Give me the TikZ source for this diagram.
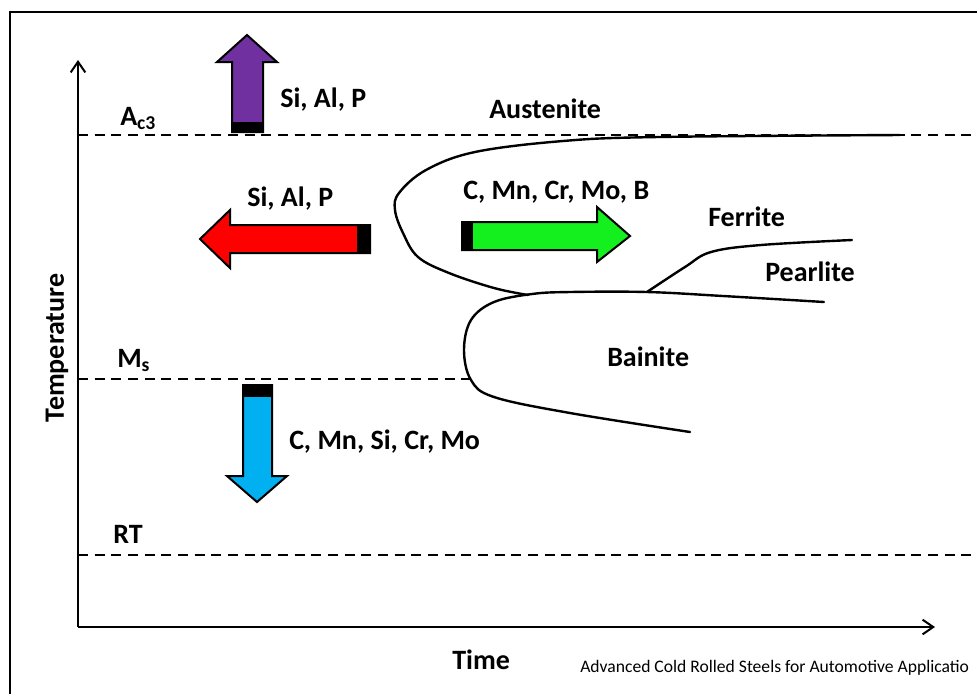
\documentclass[tikz,border=0pt]{standalone}
\usepackage{fontspec}
\setmainfont{Carlito}
\usetikzlibrary{arrows.meta}
\definecolor{alviolet}{HTML}{7030A0}
\definecolor{alred}{HTML}{FF0000}
\definecolor{algreen}{HTML}{14F01E}
\definecolor{alblue}{HTML}{00B0F0}

\begin{document}
\begin{tikzpicture}[x=0.75pt,y=-0.75pt,
  lbl/.style={font=\bfseries\fontsize{21}{24}\selectfont, inner sep=0pt, anchor=base west},
  level/.style={black, line width=1.4pt, dash pattern=on 7.5pt off 5pt},
  curve/.style={black, line width=1.8pt, line join=round, line cap=round},
  axis/.style={black, line width=1.5pt, -{Straight Barb[length=8pt,width=11pt]}},
  fatarrow/.style={draw=black, line width=1.5pt, line join=miter}]

\useasboundingbox (0,0) rectangle (977,694);

% frame
\draw[black, line width=1.5pt] (977,12) -- (10,12) -- (10,694);

% axes
\coordinate (origin) at (78,627);
\coordinate (ytop) at (78,60);
\coordinate (xend) at (935,627);
\draw[axis] (origin) -- (ytop);
\draw[axis] (origin) -- (xend);

\node[lbl, anchor=center, rotate=90] (temp) at (57,348) {Temperature};
\node[lbl] (time) at (452,669) {Time};

% levels
\coordinate (ac3l) at (78,135);
\coordinate (ac3r) at (977,135);
\coordinate (msl) at (78,379);
\coordinate (msr) at (470,379);
\coordinate (rtl) at (78,555);
\coordinate (rtr) at (977,555);
\draw[level] (ac3l) -- (ac3r);
\draw[level] (msl) -- (msr);
\draw[level] (rtl) -- (rtr);

\node[lbl] (ac3) at (120,125) {A\textsubscript{c3}};
\node[lbl] (ms) at (117,367) {M\textsubscript{s}};
\node[lbl] (rt) at (113,543) {RT};

% austenite / ferrite nose
\draw[curve] plot[smooth, tension=0.6] coordinates {(900,135) (658,137) (563,141) (475,152) (426,170) (399,193) (395,210) (403,233) (418,257) (449,273) (494,288) (528,295)};
% bainite nose
\draw[curve] plot[smooth, tension=0.6] coordinates {(824,302) (723,296) (647,292) (570,292) (532,294) (494,302) (471,320) (464,350) (471,380) (494,397) (570,413) (690,432)};
% ferrite / pearlite split
\draw[curve] plot[smooth, tension=0.6] coordinates {(647,292) (685,267) (711,252) (761,245) (852,240)};

\node[lbl] (aust) at (489,118) {Austenite};
\node[lbl] (ferr) at (708,226) {Ferrite};
\node[lbl] (pearl) at (765,281) {Pearlite};
\node[lbl] (bain) at (607,366) {Bainite};

% alloy arrows
\filldraw[fatarrow, fill=alviolet] (232,132) -- (232,62) -- (217,62) -- (247,35) -- (277,62) -- (263,62) -- (263,132) -- cycle;
\fill[black] (232,122) rectangle (263,132);
\draw[fatarrow] (232,132) -- (263,132);
\node[lbl] (up) at (280,107) {Si, Al, P};

\filldraw[fatarrow, fill=alred] (370,225) -- (230,225) -- (230,210) -- (200,239) -- (230,268) -- (230,253) -- (370,253) -- cycle;
\fill[black] (357,225) rectangle (370,253);
\node[lbl] (left) at (247,206) {Si, Al, P};

\filldraw[fatarrow, fill=algreen] (462,222) -- (597,222) -- (597,207) -- (630,236) -- (597,262) -- (597,250) -- (462,250) -- cycle;
\fill[black] (462,222) rectangle (473,250);
\node[lbl] (right) at (463,199) {C, Mn, Cr, Mo, B};

\filldraw[fatarrow, fill=alblue] (243,385) -- (243,476) -- (227,476) -- (257,502) -- (287,476) -- (272,476) -- (272,385) -- cycle;
\fill[black] (243,385) rectangle (272,397);
\node[lbl] (down) at (289,449) {C, Mn, Si, Cr, Mo};

\node[inner sep=0pt, anchor=base west, font=\fontsize{13.2}{15}\selectfont] (src) at (580,672) {Advanced Cold Rolled Steels for Automotive Applicatio};

\end{tikzpicture}
\end{document}
